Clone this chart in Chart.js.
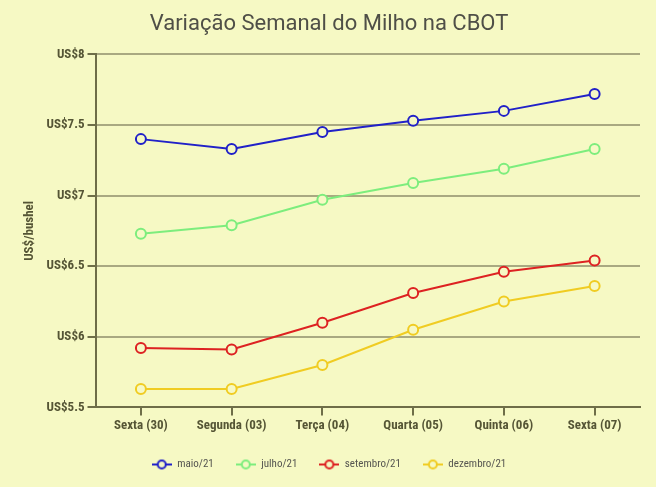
<!DOCTYPE html>
<html>
<head>
<meta charset="utf-8">
<script src="https://cdn.jsdelivr.net/npm/chart.js@4"></script>
<style>
  html, body { margin: 0; padding: 0; background: #f6f9c4; }
  #wrap { width: 656px; height: 487px; }
</style>
</head>
<body>
<div id="wrap"><canvas id="chart" width="656" height="487"></canvas></div>
<script>
// ── Data ──
const categories = ['Sexta (30)', 'Segunda (03)', 'Terça (04)', 'Quarta (05)', 'Quinta (06)', 'Sexta (07)'];
const seriesNames = ['maio/21', 'julho/21', 'setembro/21', 'dezembro/21'];
const maio = [7.40, 7.33, 7.45, 7.53, 7.60, 7.72];
const julho = [6.73, 6.79, 6.97, 7.09, 7.19, 7.33];
const setembro = [5.92, 5.91, 6.10, 6.31, 6.46, 6.54];
const dezembro = [5.63, 5.63, 5.80, 6.05, 6.25, 6.36];

const colors = ['#2121c8', '#7ded7d', '#dd2222', '#f0cc22'];
const bg = '#f6f9c4';
const condensed = '"Roboto Condensed", "Liberation Sans Narrow", Roboto, sans-serif';
const tickFont = { family: condensed, size: 13, weight: 'bold' };

// legend icon: short line with open circle
function legendIcon(color) {
  const c = document.createElement('canvas');
  c.width = 20; c.height = 12;
  const ctx = c.getContext('2d');
  ctx.strokeStyle = color;
  ctx.lineWidth = 2;
  ctx.beginPath(); ctx.moveTo(0, 6); ctx.lineTo(20, 6); ctx.stroke();
  ctx.fillStyle = bg;
  ctx.beginPath(); ctx.arc(10, 6, 4, 0, Math.PI * 2); ctx.fill(); ctx.stroke();
  return c;
}

const allSeries = [maio, julho, setembro, dezembro];
const datasets = allSeries.map((vals, i) => ({
  label: seriesNames[i],
  data: vals,
  borderColor: colors[i],
  backgroundColor: bg,
  pointBackgroundColor: bg,
  pointBorderColor: colors[i],
  pointBorderWidth: 2,
  pointRadius: 5,
  borderWidth: 2,
  tension: 0,
  _icon: legendIcon(colors[i]),
}));

new Chart(document.getElementById('chart'), {
  type: 'line',
  data: { labels: categories, datasets },
  options: {
    responsive: false,
    animation: false,
    layout: { padding: { left: 18, right: 16, top: 2, bottom: 7 } },
    plugins: {
      title: {
        display: true,
        text: 'Variação Semanal do Milho na CBOT',
        color: '#4f4f47',
        font: { family: 'Roboto', size: 22, weight: 'normal' },
        padding: { top: 9, bottom: 17 },
      },
      legend: {
        position: 'bottom',
        labels: {
          usePointStyle: true,
          pointStyleWidth: 20,
          color: '#555550',
          font: { family: condensed, size: 11 },
          padding: 22,
          generateLabels(chart) {
            return chart.data.datasets.map((d, i) => ({
              text: d.label,
              pointStyle: d._icon,
              fillStyle: d.borderColor,
              strokeStyle: d.borderColor,
              fontColor: '#555550',
              datasetIndex: i,
              hidden: false,
            }));
          },
        },
      },
      tooltip: { enabled: false },
    },
    scales: {
      x: {
        offset: true,
        grid: { display: true, drawOnChartArea: false, drawTicks: true, tickLength: 8, tickColor: '#6e6e48', lineWidth: 2 },
        border: { color: '#6e6e48', width: 2 },
        ticks: { color: '#555535', font: tickFont, padding: 3 },
      },
      y: {
        min: 5.5,
        max: 8,
        title: {
          display: true,
          text: 'US$/bushel',
          color: '#555535',
          font: tickFont,
          padding: { bottom: 6 },
        },
        grid: { color: '#a9a981', lineWidth: 2, tickLength: 8, tickColor: '#6e6e48', drawTicks: true },
        border: { color: '#6e6e48', width: 2 },
        ticks: {
          stepSize: 0.5,
          color: '#555535',
          font: tickFont,
          padding: 3,
          callback: v => 'US$' + v,
        },
      },
    },
  },
  plugins: [{
    id: 'bg',
    beforeDraw(chart) {
      const ctx = chart.ctx;
      ctx.save();
      ctx.fillStyle = bg;
      ctx.fillRect(0, 0, chart.width, chart.height);
      ctx.restore();
    },
  }],
});
</script>
</body>
</html>
